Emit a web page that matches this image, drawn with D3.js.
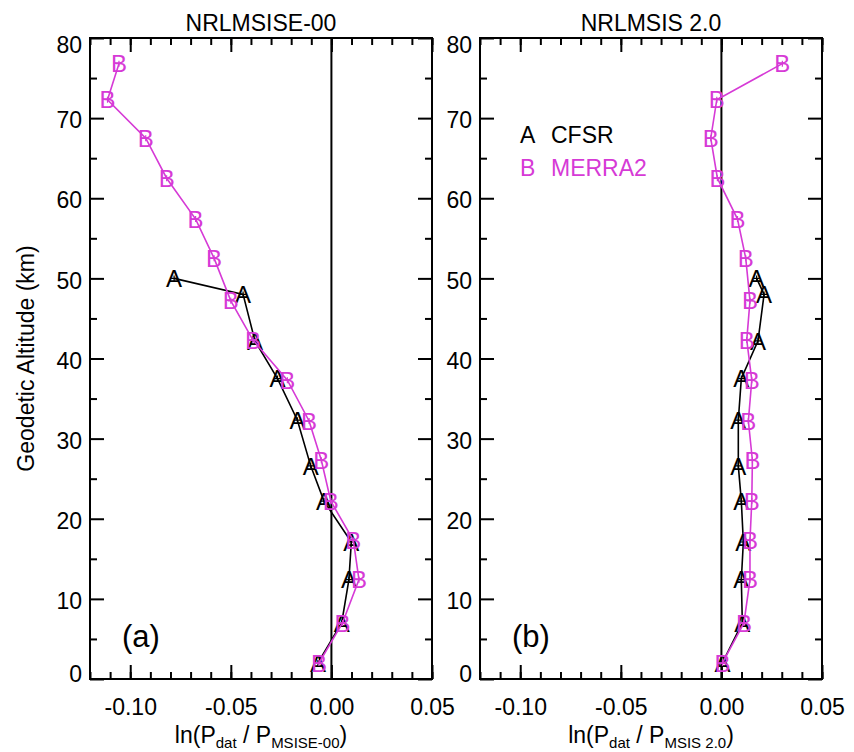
<!DOCTYPE html>
<html>
<head>
<meta charset="utf-8">
<script src="https://cdn.jsdelivr.net/npm/d3@7"></script>
<style>
  body { margin: 0; background: #fff; }
  svg text { font-family: "Liberation Sans", Arial, Helvetica, sans-serif; }
</style>
</head>
<body>
<div id="chart"></div>
<script>
var W = 854, H = 752;

// altitudes (km) of the two data sets
var altA = [50.0, 48.0, 42.2, 37.5, 32.3, 26.6, 22.2, 17.1, 12.4, 7.0, 2.0];
var altB = [76.8, 72.3, 67.5, 62.5, 57.4, 52.5, 47.2, 42.3, 37.3, 32.2, 27.3, 22.2, 17.3, 12.4, 7.0, 2.0];

// ln(Pdat / Pmodel)
var cfsrMsise00 = [-0.0782, -0.0439, -0.0380, -0.0268, -0.0169, -0.0103, -0.0037, 0.0099, 0.0087, 0.0051, -0.0067];
var merraMsise00 = [-0.1056, -0.1113, -0.0923, -0.0819, -0.0675, -0.0583, -0.0500, -0.0390, -0.0219, -0.0111, -0.0050, -0.0003, 0.0109, 0.0137, 0.0055, -0.0062];
var cfsrMsis20 = [0.0175, 0.0212, 0.0182, 0.0099, 0.0084, 0.0084, 0.0099, 0.0109, 0.0099, 0.0104, 0.0005];
var merraMsis20 = [0.0303, -0.0023, -0.0053, -0.0020, 0.0080, 0.0121, 0.0142, 0.0126, 0.0151, 0.0134, 0.0154, 0.0151, 0.0142, 0.0142, 0.0112, 0.0005];

var xTicks = [-0.10, -0.05, 0.00, 0.05];
var yTicks = [0, 10, 20, 30, 40, 50, 60, 70, 80];

var magenta = "#d63ad6";
var fs = 23;

var panels = [
    { left: 90, right: 432, title: "NRLMSISE-00", tag: "(a)", sub: "MSISE-00", a: cfsrMsise00, b: merraMsise00 },
    { left: 480, right: 822, title: "NRLMSIS 2.0", tag: "(b)", sub: "MSIS 2.0", a: cfsrMsis20, b: merraMsis20 }
];
var plotTop = 38, plotBottom = 679;

var svg = d3.select("#chart").append("svg")
    .attr("width", W)
    .attr("height", H);

var y = d3.scaleLinear().domain([0, 80]).range([plotBottom, plotTop]);

panels.forEach(function (p, i) {
    var x = d3.scaleLinear().domain([-0.12, 0.05]).range([p.left, p.right]);
    var g = svg.append("g");

    var minorX = d3.range(-12, 6).map(function (d) { return d / 100; });
    var minorY = d3.range(5, 80, 10);

    // minor ticks
    g.append("g").attr("transform", "translate(0," + plotBottom + ")")
        .call(d3.axisBottom(x).tickValues(minorX).tickSize(-7).tickFormat(""));
    g.append("g").attr("transform", "translate(0," + plotTop + ")")
        .call(d3.axisTop(x).tickValues(minorX).tickSize(-7).tickFormat(""));
    g.append("g").attr("transform", "translate(" + p.left + ",0)")
        .call(d3.axisLeft(y).tickValues(minorY).tickSize(-7).tickFormat(""));
    g.append("g").attr("transform", "translate(" + p.right + ",0)")
        .call(d3.axisRight(y).tickValues(minorY).tickSize(-7).tickFormat(""));

    // major ticks + labels
    g.append("g").attr("class", "xlab").attr("transform", "translate(0," + plotBottom + ")")
        .call(d3.axisBottom(x).tickValues(xTicks).tickSize(-14).tickPadding(20)
            .tickFormat(function (d) { return d.toFixed(2); }));
    g.append("g").attr("transform", "translate(0," + plotTop + ")")
        .call(d3.axisTop(x).tickValues(xTicks).tickSize(-14).tickFormat(""));
    g.append("g").attr("class", "ylab").attr("transform", "translate(" + p.left + ",0)")
        .call(d3.axisLeft(y).tickValues(yTicks).tickSize(-14).tickPadding(8)
            .tickFormat(function (d) { return d; }));
    g.append("g").attr("transform", "translate(" + p.right + ",0)")
        .call(d3.axisRight(y).tickValues(yTicks).tickSize(-14).tickFormat(""));

    g.selectAll(".domain").remove();
    g.selectAll(".tick line").attr("stroke", "#000").attr("stroke-width", 2);
    g.selectAll(".tick text").attr("fill", "#000").style("font-size", fs + "px");
    g.selectAll(".ylab .tick text").attr("dy", "0.42em");
    g.selectAll(".ylab .tick").filter(function (d) { return d == 80; })
        .select("text").attr("dy", "0.62em");
    g.selectAll(".ylab .tick").filter(function (d) { return d == 0; })
        .select("text").attr("dy", "0.1em");

    // frame
    g.append("rect")
        .attr("x", p.left).attr("y", plotTop)
        .attr("width", p.right - p.left).attr("height", plotBottom - plotTop)
        .attr("fill", "none").attr("stroke", "#000").attr("stroke-width", 2);

    // zero line
    g.append("line")
        .attr("x1", x(0)).attr("x2", x(0))
        .attr("y1", plotTop).attr("y2", plotBottom)
        .attr("stroke", "#000").attr("stroke-width", 2);

    // series
    var series = [
        { vals: p.a, alt: altA, color: "#000", sym: "A" },
        { vals: p.b, alt: altB, color: magenta, sym: "B" }
    ];
    series.forEach(function (s) {
        var pts = s.vals.map(function (v, k) { return [v, s.alt[k]]; });
        g.append("path")
            .datum(pts)
            .attr("d", d3.line()
                .x(function (d) { return x(d[0]); })
                .y(function (d) { return y(d[1]); }))
            .attr("fill", "none")
            .attr("stroke", s.color)
            .attr("stroke-width", 1.6);
        g.selectAll(null).data(pts).enter().append("path")
            .attr("d", function (d) {
                var cx = x(d[0]), cy = y(d[1]);
                return "M" + (cx - 3) + "," + cy + "H" + (cx + 3) + "M" + cx + "," + (cy - 3) + "V" + (cy + 3);
            })
            .attr("stroke", s.color).attr("stroke-width", 1.2);
        g.selectAll(null).data(pts).enter().append("text")
            .attr("x", function (d) { return x(d[0]); })
            .attr("y", function (d) { return y(d[1]) + 24 * 0.36; })
            .attr("text-anchor", "middle")
            .style("font-size", "24px")
            .attr("fill", s.color)
            .text(s.sym);
    });

    // title
    svg.append("text")
        .attr("x", (p.left + p.right) / 2).attr("y", 31)
        .attr("text-anchor", "middle")
        .style("font-size", fs + "px")
        .text(p.title);

    // panel tag
    svg.append("text")
        .attr("x", p.left + 32).attr("y", 647)
        .style("font-size", "31px")
        .text(p.tag);

    // x title
    var xt = svg.append("text")
        .attr("x", (p.left + p.right) / 2).attr("y", 743)
        .attr("text-anchor", "middle")
        .style("font-size", fs + "px");
    xt.append("tspan").text("ln(P");
    xt.append("tspan").attr("dy", 5).style("font-size", "15px").text("dat");
    xt.append("tspan").attr("dy", -5).text(" / P");
    xt.append("tspan").attr("dy", 5).style("font-size", "15px").text(p.sub);
    xt.append("tspan").attr("dy", -5).text(")");
});

// y title
svg.append("text")
    .attr("transform", "translate(34," + ((plotTop + plotBottom) / 2) + ") rotate(-90)")
    .attr("text-anchor", "middle")
    .style("font-size", fs + "px")
    .text("Geodetic Altitude (km)");

// legend
var legend = [
    { sym: "A", name: "CFSR", color: "#000" },
    { sym: "B", name: "MERRA2", color: magenta }
];
legend.forEach(function (d, i) {
    svg.append("text").attr("x", 520).attr("y", 143 + i * 32.5)
        .style("font-size", fs + "px").attr("fill", d.color).text(d.sym);
    svg.append("text").attr("x", 551).attr("y", 143 + i * 32.5)
        .style("font-size", fs + "px").attr("fill", d.color).text(d.name);
});
</script>
</body>
</html>
